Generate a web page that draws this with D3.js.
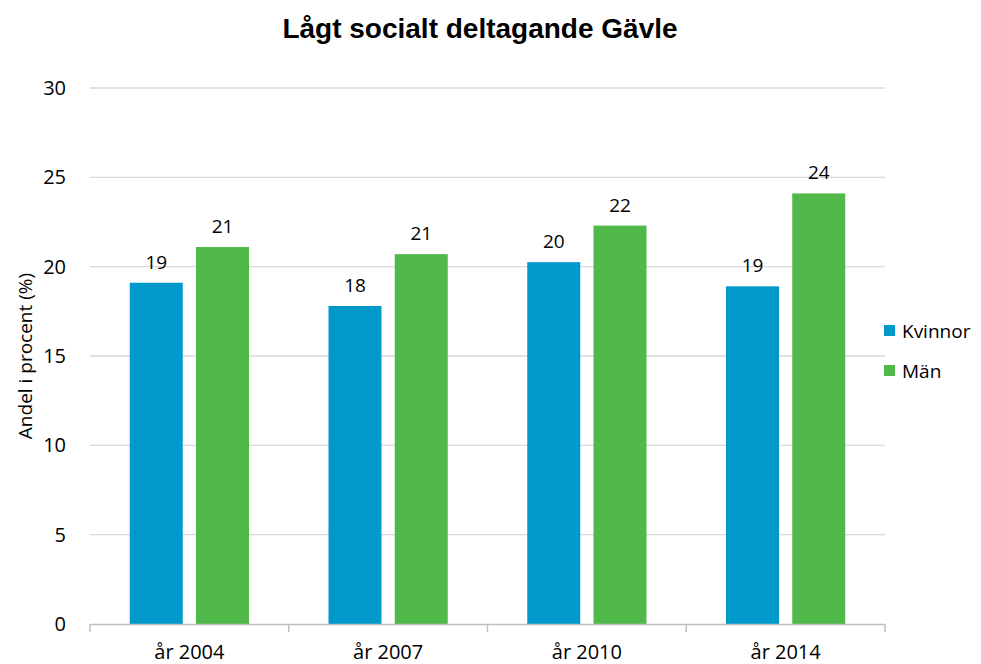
<!DOCTYPE html>
<html>
<head>
<meta charset="utf-8">
<script src="https://cdn.jsdelivr.net/npm/d3@7"></script>
<style>
  body{ margin:0; background:#fff; }
  text{ font-family:"Open Sans", "Noto Sans", sans-serif; fill:#000; }
</style>
</head>
<body>
<svg id="chart" width="981" height="664"></svg>
<script>
var years = ["år 2004", "år 2007", "år 2010", "år 2014"];
var series = ["Kvinnor", "Män"];
var kvinnor = [19.1, 17.8, 20.25, 18.9];
var man = [21.1, 20.7, 22.3, 24.1];
var yTicks = [0, 5, 10, 15, 20, 25, 30];
var colors = ["#0099cc", "#51b84a"];

var svg = d3.select("#chart");
var margin = {left: 90, right: 96, top: 88, bottom: 40};
var width = 981 - margin.left - margin.right,
	height = 664 - margin.top - margin.bottom;

var g = svg.append("g")
	.attr("transform", "translate(" + margin.left + "," + margin.top + ")");

var x0 = d3.scaleBand().domain(years).range([0, width]).padding(0);
var x1 = d3.scaleBand().domain(series)
	.range([x0.bandwidth() * 0.2, x0.bandwidth() * 0.8])
	.paddingInner(0.2).paddingOuter(0);
var y = d3.scaleLinear().domain([0, 30]).range([height, 0]);
var color = d3.scaleOrdinal().domain(series).range(colors);

// gridlines
g.selectAll("line.grid")
	.data(yTicks.filter(function(d){ return d > 0; }))
	.enter()
	.append("line")
	.attr("class", "grid")
	.attr("x1", 0).attr("x2", width)
	.attr("y1", function(d){ return y(d); })
	.attr("y2", function(d){ return y(d); })
	.attr("stroke", "#d9d9d9").attr("stroke-width", 1.3);

// y labels
var yAxis = d3.axisLeft(y).tickValues(yTicks).tickSize(0).tickPadding(24);
g.append("g").call(yAxis)
	.call(function(s){ s.select(".domain").remove(); })
	.selectAll("text")
	.style("font-size", "20px")
	.attr("fill", "#000");

// bars
var data = years.map(function(yr, i){
	return {year: yr, values: [
		{key: "Kvinnor", value: kvinnor[i]},
		{key: "Män", value: man[i]}
	]};
});

var groups = g.selectAll("g.year")
	.data(data)
	.enter()
	.append("g")
	.attr("class", "year")
	.attr("transform", function(d){ return "translate(" + x0(d.year) + ",0)"; });

groups.selectAll("rect")
	.data(function(d){ return d.values; })
	.enter()
	.append("rect")
	.attr("x", function(d){ return x1(d.key); })
	.attr("width", x1.bandwidth())
	.attr("y", function(d){ return y(d.value); })
	.attr("height", function(d){ return height - y(d.value); })
	.attr("fill", function(d){ return color(d.key); });

groups.selectAll("text.val")
	.data(function(d){ return d.values; })
	.enter()
	.append("text")
	.attr("class", "val")
	.attr("x", function(d){ return x1(d.key) + x1.bandwidth() / 2; })
	.attr("y", function(d){ return y(d.value) - 14; })
	.attr("text-anchor", "middle")
	.style("font-size", "19px")
	.text(function(d){ return Math.round(d.value); });

// x axis
var xAxis = d3.axisBottom(x0).tickSize(0).tickPadding(21);
var xg = g.append("g").attr("transform", "translate(0," + height + ")").call(xAxis);
xg.select(".domain").attr("stroke", "#bfbfbf").attr("stroke-width", 1.5);
xg.selectAll("text").style("font-size", "20px");
xg.selectAll("line.sep")
	.data(d3.range(years.length + 1))
	.enter()
	.append("line")
	.attr("class", "sep")
	.attr("x1", function(i){ return i * x0.step(); })
	.attr("x2", function(i){ return i * x0.step(); })
	.attr("y1", 0).attr("y2", 8)
	.attr("stroke", "#bfbfbf").attr("stroke-width", 1.5);

// y axis title
svg.append("text")
	.attr("transform", "translate(32," + (margin.top + height / 2) + ") rotate(-90)")
	.attr("text-anchor", "middle")
	.style("font-size", "19px")
	.text("Andel i procent (%)");

// title
svg.append("text")
	.attr("x", 480).attr("y", 38)
	.attr("text-anchor", "middle")
	.style("font-family", "'Liberation Sans', Arial, sans-serif")
	.style("font-weight", "bold")
	.style("font-size", "28px")
	.text("Lågt socialt deltagande Gävle");

// legend
var legend = svg.selectAll("g.legend")
	.data(series)
	.enter()
	.append("g")
	.attr("class", "legend")
	.attr("transform", function(d, i){ return "translate(884," + (331 + i * 40) + ")"; });
legend.append("rect")
	.attr("x", 0).attr("y", -6)
	.attr("width", 11).attr("height", 11)
	.attr("fill", function(d){ return color(d); });
legend.append("text")
	.attr("x", 18).attr("y", 0)
	.attr("dy", "0.35em")
	.style("font-size", "19px")
	.text(function(d){ return d; });
</script>
</body>
</html>
